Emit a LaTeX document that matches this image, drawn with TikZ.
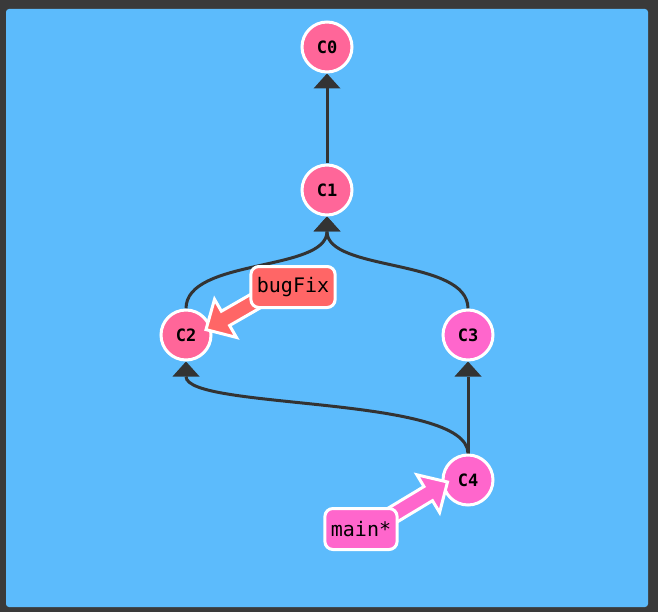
\documentclass[tikz,border=0pt]{standalone}
\usepackage{fontspec}
\setmonofont{DejaVu Sans Mono}
\usetikzlibrary{arrows.meta}
\pgfdeclarelayer{back}
\pgfdeclarelayer{front}
\pgfsetlayers{back,main,front}
\definecolor{frame}{HTML}{3A3A3A}
\definecolor{panel}{HTML}{5CBBFC}
\definecolor{edge}{HTML}{333333}
\definecolor{commitA}{HTML}{FF6699}
\definecolor{commitB}{HTML}{FF66CC}
\definecolor{bugcol}{HTML}{FF6666}
\definecolor{maincol}{HTML}{FF66CC}
\begin{document}
\begin{tikzpicture}[x=1pt,y=-1pt,
  commit/.style={circle, draw=white, line width=3pt, fill=#1, minimum size=50pt,
    inner sep=0pt, font=\ttfamily\bfseries\fontsize{17}{17}\selectfont},
  branch/.style={rounded corners=8pt, draw=white, line width=3pt, fill=#1,
    minimum height=41pt, inner xsep=6pt, inner ysep=0pt,
    font=\ttfamily\fontsize{20}{20}\selectfont},
  parent/.style={draw=edge, line width=3pt,
    -{Triangle[width=27pt,length=15pt,line width=0pt]}},
  pointer/.pic={
    \filldraw[draw=white, line width=3pt, line join=miter, fill=#1]
      (0,0) -- (-22.5,-22) -- (-22.5,-8.25) -- (-110,-8.25) -- (-110,8.25)
      -- (-22.5,8.25) -- (-22.5,22) -- cycle;
  }]
  % canvas
  \useasboundingbox (0,0) rectangle (658,612);
  \begin{pgfonlayer}{back}
    \fill[frame] (0,0) rectangle (658,612);
    \fill[panel, rounded corners=3pt] (6,9) rectangle (648,607);
  \end{pgfonlayer}

  % commits
  \node[commit=commitA] (C0) at (327,47)  {C0};
  \node[commit=commitA] (C1) at (327,190) {C1};
  \node[commit=commitA] (C2) at (186,335) {C2};
  \node[commit=commitB] (C3) at (468,335) {C3};
  \node[commit=commitB] (C4) at (468,480) {C4};

  % parent links
  \begin{pgfonlayer}{back}
    \draw[parent] (C1.north) -- (C0.south);
    \draw[parent] (C2.north) .. controls (186,258) and (327,272) .. (C1.south);
    \draw[parent] (C3.north) .. controls (468,258) and (327,272) .. (C1.south);
    \draw[parent] (C4.north) .. controls (468,395) and (186,410) .. (C2.south);
    \draw[parent] (C4.north) -- (C3.south);
  \end{pgfonlayer}

  % branch labels
  \begin{pgfonlayer}{front}
    \node[branch=bugcol]  (bugFix) at (293,287) {bugFix};
    \node[branch=maincol] (main)   at (361,529) {main*};
  \end{pgfonlayer}

  % branch pointers, each aimed from its label to its commit
  \coordinate (bugTip)  at (206,329.6);
  \coordinate (mainTip) at (447.5,482);
  \path ([xshift=-13pt]bugFix.center) -- (bugTip)
    pic[pos=1, sloped, allow upside down] {pointer=bugcol};
  \path ([xshift=8.5pt]main.center) -- (mainTip)
    pic[pos=1, sloped, allow upside down] {pointer=maincol};
\end{tikzpicture}
\end{document}
